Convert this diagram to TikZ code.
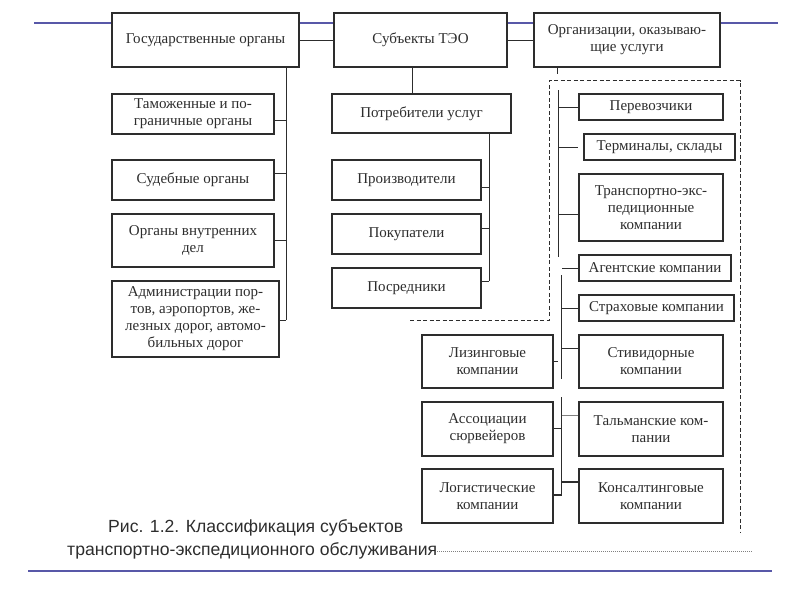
\documentclass[tikz,border=0pt]{standalone}
\usepackage{fontspec}
\setmainfont{Liberation Serif}
\newfontfamily\capfont{Liberation Sans}
\usepackage{tikz}
\usetikzlibrary{calc}
\definecolor{slideblue}{RGB}{88,88,168}
\definecolor{ink}{RGB}{45,45,45}

\begin{document}
\begin{tikzpicture}[x=1pt,y=-1pt,
		box/.style={draw=ink,line width=1.1pt,fill=white,align=center,inner sep=0pt,
			text=ink,font=\fontsize{15}{17}\selectfont},
		link/.style={draw=ink,line width=0.7pt},
		rule/.style={draw=slideblue,line width=2.6pt}]
				\useasboundingbox (0,0) rectangle (800,600);
				% slide rules
				\draw[rule] (34,23) -- (778,23);
				\draw[rule] (28,571) -- (772,571);
				% top row
				\node[box,minimum width=187,minimum height=54] (gov) at (205.5,40) {Государственные органы};
				\node[box,minimum width=173,minimum height=54] (subj) at (420.5,40) {Субъекты ТЭО};
				\node[box,minimum width=186,minimum height=54] (org) at (627,40) {Организации, оказываю-\\щие услуги};
				\draw[link] (gov.east) -- (subj.west);
				\draw[link] (subj.east) -- (org.west);
				% state bodies
				\node[box,minimum width=162,minimum height=40] (tam) at (193,114) {Таможенные и по-\\граничные органы};
				\node[box,minimum width=162,minimum height=40] (sud) at (193,180) {Судебные органы};
				\node[box,minimum width=162,minimum height=53] (ovd) at (193,240.5) {Органы внутренних\\дел};
				\node[box,minimum width=167,minimum height=76] (adm) at (195.5,319) {Администрации пор-\\тов, аэропортов, же-\\лезных дорог, автомо-\\бильных дорог};
				\coordinate (lspine) at (286,320);
				\draw[link] (gov.south -| lspine) -- (lspine);
				\draw[link] ([yshift=-6pt]tam.east) -- ([yshift=-6pt]tam.east -| lspine);
				\draw[link] ([yshift=7pt]sud.east) -- ([yshift=7pt]sud.east -| lspine);
				\draw[link] (ovd.east) -- (ovd.east -| lspine);
				\draw[link] ([yshift=-1pt]adm.east) -- (lspine);
				% consumers
				\node[box,minimum width=179,minimum height=39] (potr) at (421.5,113.5) {Потребители услуг};
				\node[box,minimum width=149,minimum height=40] (proizv) at (406.5,180) {Производители};
				\node[box,minimum width=149,minimum height=40] (pokup) at (406.5,234) {Покупатели};
				\node[box,minimum width=149,minimum height=40] (posr) at (406.5,288) {Посредники};
				\draw[link] ([xshift=-8pt]subj.south) -- ([xshift=-8pt]subj.south |- potr.north);
				\coordinate (mspine) at (489,281);
				\draw[link] (potr.south -| mspine) -- (mspine);
				\draw[link] ([yshift=-7pt]proizv.east) -- ([yshift=-7pt]proizv.east -| mspine);
				\draw[link] ([yshift=6pt]pokup.east) -- ([yshift=6pt]pokup.east -| mspine);
				\draw[link] ([yshift=7pt]posr.east) -- (mspine);
				% service organisations
				\coordinate (otick) at (557,74);
				\draw[link] (org.south -| otick) -- (otick);
				\draw[ink,line width=0.9pt,dash pattern=on 4pt off 2.5pt]
					(410,320) -- (549,320) -- (549,80.7) -- (740,80.7) -- (740,533);
				\node[box,minimum width=144,minimum height=26] (perev) at (651,107) {Перевозчики};
				\node[box,minimum width=151,minimum height=26] (term) at (659.5,147) {Терминалы, склады};
				\node[box,minimum width=144,minimum height=67] (trexp) at (651,207.5) {Транспортно-экс-\\педиционные\\компании};
				\node[box,minimum width=152,minimum height=26] (agent) at (655,268) {Агентские компании};
				\node[box,minimum width=155,minimum height=26] (strah) at (656.5,308) {Страховые компании};
				\node[box,minimum width=144,minimum height=53] (steve) at (651,361.5) {Стивидорные\\компании};
				\node[box,minimum width=144,minimum height=54] (talm) at (651,429) {Тальманские ком-\\пании};
				\node[box,minimum width=144,minimum height=54] (kons) at (651,496) {Консалтинговые\\компании};
				\node[box,minimum width=131,minimum height=53] (lizing) at (487.5,361.5) {Лизинговые\\компании};
				\node[box,minimum width=131,minimum height=54] (assoc) at (487.5,429) {Ассоциации\\сюрвейеров};
				\node[box,minimum width=131,minimum height=54] (logist) at (487.5,496) {Логистические\\компании};
				% spines of the right column
				\coordinate (rtop) at (558.3,90);
				\coordinate (rbot) at (558.3,257);
				\draw[link] (rtop) -- (rbot);
				\draw[ink,line width=1.6pt] (558.3,152.7) -- (558.3,195);
				\draw[link] (perev.west -| rtop) -- (perev.west);
				\draw[link] (term.west -| rtop) -- ([xshift=-5pt]term.west);
				\draw[link] ([yshift=-7pt]trexp.west -| rtop) -- ([yshift=-7pt]trexp.west);
				\coordinate (stop) at (561,275);
				\coordinate (sbot) at (561,379);
				\draw[link] (stop) -- (sbot);
				\draw[link] (agent.west -| 562,0) -- (agent.west);
				\draw[link] (strah.west -| stop) -- (strah.west);
				\draw[link] ([yshift=13.5pt]steve.west -| stop) -- ([yshift=13.5pt]steve.west);
				\draw[link] (lizing.east) -- ++(4,0);
				\coordinate (ttop) at (561.7,397);
				\coordinate (tbot) at (561.7,495);
				\draw[link] (ttop) -- (tbot);
				\draw[link,draw=gray] ([yshift=14pt]talm.west -| ttop) -- ([yshift=14pt]talm.west);
				\draw[link] ([yshift=1pt]assoc.east) -- ([yshift=1pt]assoc.east -| ttop);
				\draw[ink,line width=1.3pt] ([yshift=14pt]kons.west -| ttop) -- ([yshift=14pt]kons.west);
				\draw[ink,line width=1.3pt] ([yshift=1pt]logist.east) -- (tbot);
				% caption
				\node[anchor=west,inner sep=0pt,text=ink,font=\capfont\fontsize{17.6}{20}\selectfont] (cap1) at (108,528) {Рис. 1.2. Классификация субъектов};
				\node[anchor=west,inner sep=0pt,text=ink,font=\capfont\fontsize{17.6}{20}\selectfont] (cap2) at (67,551) {транспортно-экспедиционного обслуживания};
				\draw[gray,line width=1pt,densely dotted] (cap2.east) -- (752,551);
			\end{tikzpicture}
\end{document}
